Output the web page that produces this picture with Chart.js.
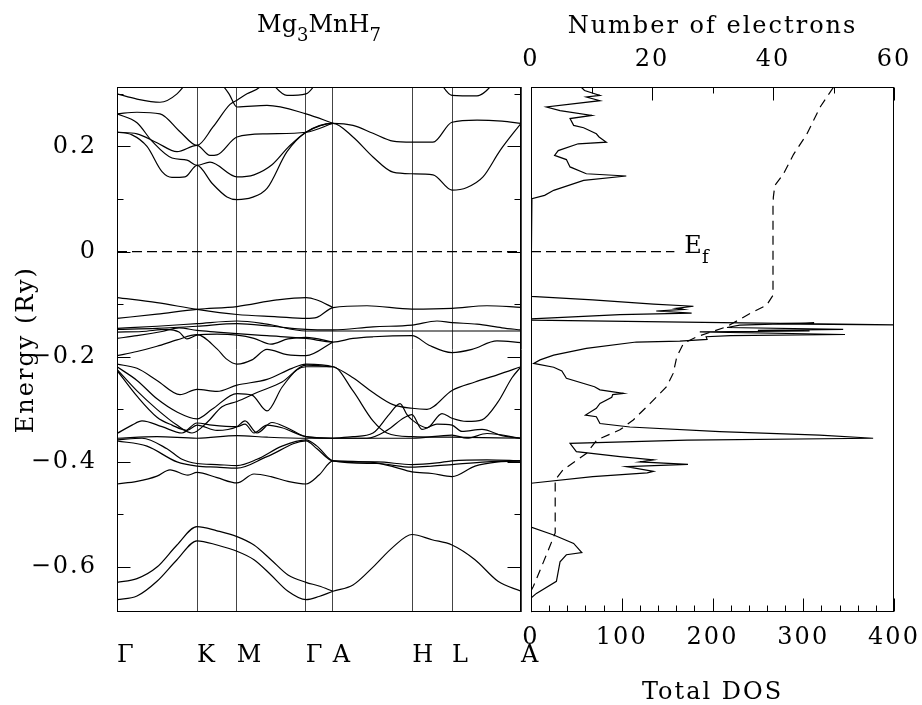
<!DOCTYPE html>
<html>
<head>
<meta charset="utf-8">
<script src="https://cdn.jsdelivr.net/npm/chart.js@4.4.1/dist/chart.umd.min.js"></script>
<style>
  body { margin: 0; background: #fff; }
  #wrap { position: relative; width: 922px; height: 705px; overflow: hidden; }
  canvas { position: absolute; left: 0; top: 0; }
</style>
</head>
<body>
<div id="wrap">
  <canvas id="bands" width="922" height="705"></canvas>
  <canvas id="dos" width="922" height="705"></canvas>
</div>
<script>
const FONT = "'DejaVu Serif', serif";
const E_MIN = -0.686, E_MAX = 0.313;

// k path (arbitrary distance units) and labels
const kPoints = [0, 80, 119.7, 188.7, 215.7, 295.3, 335, 404];
const kLabels = ['Γ', 'K', 'M', 'Γ', 'A', 'H', 'L', 'A'];
const energyTicks = [-0.6, -0.5, -0.4, -0.3, -0.2, -0.1, 0, 0.1, 0.2, 0.3];
const dosTicks = [0, 20, 40, 60, 80, 100, 120, 140, 160, 180, 200, 220, 240, 260, 280, 300, 320, 340, 360, 380, 400];
const electronTicks = [0, 10, 20, 30, 40, 50, 60];

// bands: [k, energy (Ry)]
const bandT1 = [[0,0.227],[15,0.222],[30,0.200],[45,0.152],[55,0.141],[68,0.142],[80,0.164],[95,0.130],[110,0.104],[120,0.099],[135,0.103],[150,0.120],[170,0.190],[189,0.227],[216,0.244],[236,0.218],[256,0.180],[276,0.151],[295,0.148],[316,0.146],[335,0.117],[350,0.122],[366,0.142],[383,0.192],[404,0.244]];
const bandT2 = [[0,0.262],[20,0.245],[35,0.210],[55,0.178],[70,0.174],[80,0.164],[93,0.170],[120,0.142],[137,0.146],[155,0.165],[172,0.200],[189,0.227],[216,0.244],[236,0.240],[256,0.225],[276,0.210],[295,0.208],[316,0.208],[335,0.246],[360,0.250],[385,0.248],[404,0.244]];
const bandT3 = [[0,0.262],[20,0.265],[43,0.262],[63,0.228],[80,0.202],[96,0.237],[113,0.280],[120,0.288],[130,0.300],[143,0.313],[150,0.330]];
const bandT4 = [[0,0.227],[20,0.224],[40,0.207],[60,0.190],[80,0.202],[93,0.183],[100,0.184],[120,0.218],[150,0.224],[189,0.227],[216,0.244]];
const bandT5 = [[0,0.300],[20,0.290],[43,0.284],[60,0.300],[73,0.330]];
const bandT6 = [[100,0.330],[112,0.300],[120,0.275],[150,0.278],[189,0.262],[216,0.244]];
const bandT7 = [[150,0.330],[170,0.297],[189,0.300],[203,0.330]];
const bandT8 = [[320,0.330],[335,0.297],[360,0.296],[382,0.330]];

const bandM1 = [[0,-0.0874],[40,-0.097],[80,-0.110],[120,-0.1197],[160,-0.124],[189,-0.127],[200,-0.125],[216,-0.1065],[250,-0.103],[295,-0.1095],[335,-0.108],[370,-0.103],[404,-0.106]];
const bandM2 = [[0,-0.127],[40,-0.119],[80,-0.110],[120,-0.1045],[160,-0.092],[189,-0.0874],[200,-0.092],[216,-0.1065]];
const bandC1 = [[0,-0.146],[40,-0.142],[80,-0.137],[120,-0.132],[150,-0.138],[189,-0.151],[216,-0.151],[295,-0.151],[335,-0.151],[404,-0.151]];
const bandC2 = [[0,-0.148],[40,-0.146],[80,-0.142],[120,-0.137],[155,-0.142],[189,-0.148],[216,-0.149],[256,-0.143],[295,-0.140],[320,-0.132],[335,-0.135],[360,-0.138],[385,-0.145],[404,-0.149]];
const bandC3 = [[0,-0.153],[25,-0.152],[50,-0.148],[62,-0.153],[70,-0.166],[80,-0.159],[100,-0.157],[120,-0.159],[137,-0.165],[154,-0.176],[171,-0.166],[189,-0.163],[216,-0.172]];
const bandC4 = [[0,-0.165],[20,-0.160],[45,-0.152],[62,-0.145],[80,-0.150],[100,-0.153],[120,-0.156],[150,-0.160],[189,-0.165],[216,-0.172],[236,-0.165],[256,-0.162],[295,-0.160],[312,-0.178],[335,-0.192],[355,-0.186],[380,-0.170],[404,-0.173]];
const bandC5 = [[0,-0.198],[20,-0.190],[40,-0.180],[60,-0.168],[80,-0.158],[100,-0.185],[110,-0.205],[120,-0.214],[135,-0.206],[150,-0.186],[170,-0.196],[189,-0.198],[216,-0.172]];

const bandD1 = [[0,-0.214],[20,-0.222],[40,-0.245],[63,-0.272],[80,-0.262],[100,-0.266],[120,-0.254],[150,-0.243],[175,-0.222],[189,-0.214],[216,-0.219],[236,-0.240],[256,-0.268],[276,-0.291],[295,-0.298],[310,-0.300],[335,-0.264],[358,-0.248],[381,-0.234],[404,-0.219]];
const bandD2 = [[0,-0.219],[20,-0.245],[40,-0.280],[60,-0.305],[80,-0.318],[95,-0.300],[120,-0.270],[135,-0.273],[150,-0.303],[165,-0.258],[180,-0.225],[189,-0.219],[216,-0.219],[236,-0.265],[256,-0.322],[270,-0.345],[295,-0.352],[335,-0.353],[404,-0.355]];
const bandD3 = [[0,-0.224],[20,-0.265],[40,-0.300],[60,-0.330],[75,-0.345],[90,-0.325],[105,-0.295],[120,-0.285],[140,-0.268],[165,-0.248],[189,-0.216],[216,-0.219]];
const bandD4 = [[0,-0.226],[20,-0.275],[40,-0.315],[55,-0.330],[70,-0.340],[80,-0.330],[100,-0.340],[120,-0.333],[128,-0.322],[140,-0.345],[155,-0.325],[170,-0.335],[189,-0.352],[216,-0.355]];
const bandW1 = [[216,-0.355],[236,-0.352],[256,-0.345],[272,-0.310],[283,-0.289],[290,-0.310],[295,-0.320],[310,-0.335],[325,-0.308],[335,-0.317],[350,-0.323],[365,-0.320],[381,-0.286],[395,-0.240],[404,-0.219]];
const bandW2 = [[216,-0.355],[250,-0.355],[270,-0.340],[287,-0.316],[295,-0.310],[305,-0.338],[320,-0.328],[335,-0.330],[345,-0.342],[365,-0.338],[385,-0.350],[404,-0.355]];
const bandG1 = [[0,-0.346],[15,-0.330],[25,-0.322],[45,-0.333],[65,-0.345],[80,-0.326],[95,-0.330],[120,-0.333],[128,-0.328],[137,-0.345],[150,-0.330],[165,-0.335],[189,-0.352],[216,-0.355]];
const bandG2 = [[0,-0.355],[40,-0.352],[80,-0.355],[120,-0.350],[150,-0.353],[189,-0.355],[216,-0.355],[295,-0.355],[335,-0.349],[350,-0.355],[370,-0.346],[404,-0.355]];
const bandG3 = [[0,-0.358],[25,-0.355],[50,-0.375],[65,-0.395],[80,-0.403],[100,-0.405],[120,-0.407],[140,-0.395],[165,-0.370],[189,-0.358],[200,-0.370],[216,-0.398],[260,-0.403],[295,-0.410],[315,-0.408],[335,-0.405],[370,-0.400],[404,-0.398]];
const bandG4 = [[0,-0.360],[30,-0.370],[60,-0.400],[80,-0.408],[100,-0.410],[120,-0.412],[150,-0.390],[189,-0.360],[200,-0.375],[216,-0.398],[260,-0.400],[295,-0.405],[320,-0.402],[335,-0.398],[370,-0.396],[404,-0.398]];
const bandB3 = [[0,-0.442],[20,-0.437],[40,-0.427],[53,-0.415],[71,-0.425],[80,-0.420],[100,-0.430],[120,-0.440],[137,-0.423],[154,-0.428],[171,-0.437],[189,-0.442],[202,-0.425],[216,-0.398],[236,-0.399],[256,-0.401],[276,-0.409],[295,-0.419],[315,-0.422],[335,-0.428],[358,-0.408],[381,-0.400],[404,-0.398]];
const bandL1 = [[0,-0.662],[20,-0.655],[40,-0.627],[60,-0.586],[80,-0.550],[100,-0.558],[120,-0.570],[137,-0.586],[154,-0.615],[171,-0.646],[189,-0.662],[202,-0.656],[216,-0.646],[236,-0.634],[256,-0.600],[276,-0.562],[295,-0.538],[315,-0.548],[335,-0.558],[358,-0.586],[381,-0.627],[404,-0.646]];
const bandL2 = [[0,-0.629],[20,-0.622],[40,-0.600],[60,-0.558],[80,-0.523],[100,-0.531],[120,-0.542],[137,-0.558],[154,-0.586],[171,-0.615],[189,-0.629],[202,-0.636],[216,-0.646]];

const bands = [bandT1, bandT2, bandT3, bandT4, bandT5, bandT6, bandT7, bandT8,
  bandM1, bandM2, bandC1, bandC2, bandC3, bandC4, bandC5,
  bandD1, bandD2, bandD3, bandD4, bandW1, bandW2, bandG1, bandG2, bandG3, bandG4,
  bandB3, bandL1, bandL2];

// total DOS, traced from top to bottom
const dosEnergy = [0.320,0.3115,0.3064,0.297,0.294,0.287,0.275,0.268,0.259,0.253,0.240,0.2355,0.224,0.218,0.208,0.205,0.192,0.183,0.175,0.161,0.148,0.1437,0.1355,0.1165,0.107,0.1007,0.098,
  -0.085,-0.092,-0.100,-0.104,-0.108,-0.110,-0.113,-0.117,-0.120,-0.128,
  -0.1305,-0.139,-0.1405,-0.1375,-0.1355,-0.140,-0.1444,-0.148,-0.150,-0.151,-0.1526,-0.1577,-0.160,-0.162,-0.167,-0.1703,-0.172,-0.184,-0.197,-0.206,-0.2127,-0.220,-0.227,-0.241,-0.257,-0.263,-0.2697,-0.272,-0.277,-0.2887,-0.298,-0.311,-0.314,-0.327,-0.3336,-0.3425,-0.349,-0.355,-0.3584,-0.3647,-0.3805,-0.390,-0.396,-0.400,-0.4045,-0.409,-0.418,-0.421,-0.428,-0.4406,
  -0.524,-0.539,-0.555,-0.5726,-0.5766,-0.590,-0.627,-0.650,-0.659,-0.690];
const dosTotal = [52,56,59,76,61,76,17,32,67,43,47,58,72,75,83,52,30,26,39,43,61,105,58,25,15,1,0,
  0,68,135,179,160,168,138,177,98,0,
  0,380,480,262,312,230,216,344,250,307,186,346,220,193,194,164,116,61,25,10,3,25,34,39,70,76,102,90,89,76,72,60,72,76,109,208,318,377,172,43,50,98,135,120,173,105,135,128,68,0,
  0,25,47,56,39,32,28,6,0,0];

// integrated number of electrons
const electronEnergy = [0.3126,0.275,0.2235,0.185,0.147,0.1257,0.1035,0.09,-0.083,-0.102,-0.1178,-0.1431,-0.162,-0.1747,-0.200,-0.2317,-0.257,-0.2887,-0.3203,-0.339,-0.358,-0.3837,-0.415,-0.434,-0.535,-0.561,-0.606,-0.637,-0.645];
const electronCount = [50.0,47.8,45.6,43.4,41.7,40.3,40.06,40.0,40.0,38.95,36.2,32.3,27.4,25.2,24.1,23.5,22.4,19.7,16.9,14.7,10.9,9.2,5.3,4.0,4.0,3.1,1.5,0.38,0];

const fermiBandK = [0, 404];
const fermiDos = [0, 158];

Chart.defaults.font.family = FONT;
Chart.defaults.font.size = 24;
Chart.defaults.color = '#000';

function fmtEnergy(v) {
  if (Math.abs(v) < 1e-9) return '0';
  if (Math.round(v * 10) % 2 !== 0) return '';
  return (v < 0 ? '\u2212' : '') + Math.abs(v).toFixed(1);
}

// wide lettering, like the plotting package's stroke font (drawing only)
const spacing = {
  id: 'spacing',
  beforeUpdate(chart) { chart.ctx.letterSpacing = '0px'; },
  beforeDraw(chart) { chart.ctx.letterSpacing = '2px'; }
};

// frame + inward tick marks
const frameTicks = {
  id: 'frameTicks',
  afterDatasetsDraw(chart, args, opts) {
    const { ctx, chartArea: a } = chart;
    ctx.save();
    ctx.strokeStyle = '#000';
    ctx.lineWidth = 1;
    const L = Math.round(a.left) + 0.5, R = Math.round(a.right) - 0.5;
    const T = Math.round(a.top) + 0.5, B = Math.round(a.bottom) - 0.5;
    ctx.strokeRect(L, T, R - L, B - T);
    (opts.marks || []).forEach(m => {
      const s = chart.scales[m.scale];
      s.ticks.forEach(t => {
        const p = Math.round(s.getPixelForValue(t.value)) + 0.5;
        const len = t.label ? 13 : 6;
        ctx.beginPath();
        if (m.side === 'left') { ctx.moveTo(L, p); ctx.lineTo(L + len, p); }
        if (m.side === 'right') { ctx.moveTo(R, p); ctx.lineTo(R - len, p); }
        if (m.side === 'bottom') { ctx.moveTo(p, B); ctx.lineTo(p, B - len); }
        if (m.side === 'top') { ctx.moveTo(p, T); ctx.lineTo(p, T + len); }
        ctx.stroke();
      });
    });
    ctx.restore();
  }
};

function drawParts(ctx, parts, x, y, align) {
  ctx.letterSpacing = '0px';
  let w = 0;
  parts.forEach(p => { ctx.font = p[2] + 'px ' + FONT; w += ctx.measureText(p[0]).width; });
  let cx = align === 'center' ? x - w / 2 : x;
  ctx.textAlign = 'left';
  ctx.textBaseline = 'alphabetic';
  ctx.fillStyle = '#000';
  parts.forEach(p => {
    ctx.font = p[2] + 'px ' + FONT;
    ctx.fillText(p[0], cx, y + p[1]);
    cx += ctx.measureText(p[0]).width;
  });
}

const bandTitle = {
  id: 'bandTitle',
  afterDraw(chart) {
    const a = chart.chartArea;
    chart.ctx.save();
    drawParts(chart.ctx, [['Mg', 0, 24], ['3', 9, 18], ['MnH', 0, 24], ['7', 9, 18]], (a.left + a.right) / 2, 32, 'center');
    chart.ctx.restore();
  }
};

const fermiLabel = {
  id: 'fermiLabel',
  afterDraw(chart) {
    const x = chart.scales.x.getPixelForValue(169);
    const y = chart.scales.y.getPixelForValue(0);
    chart.ctx.save();
    drawParts(chart.ctx, [['E', 1, 24], ['f', 11, 18]], x, y, 'left');
    chart.ctx.restore();
  }
};

const lineStyle = {
  showLine: true, borderColor: '#000', borderWidth: 1.2, pointRadius: 0, fill: false
};

new Chart(document.getElementById('bands'), {
  type: 'scatter',
  data: {
    datasets: bands.map(b => Object.assign({
      data: b.map(p => ({ x: p[0], y: p[1] })),
      cubicInterpolationMode: 'monotone'
    }, lineStyle)).concat([Object.assign({
      data: fermiBandK.map(k => ({ x: k, y: 0 })),
      borderDash: [10, 5]
    }, lineStyle)])
  },
  options: {
    responsive: false, animation: false, devicePixelRatio: 1,
    layout: { padding: { left: 0, right: 401, top: 87, bottom: 0 } },
    plugins: {
      legend: { display: false }, tooltip: { enabled: false },
      frameTicks: { marks: [{ scale: 'y', side: 'left' }, { scale: 'y', side: 'right' }] }
    },
    scales: {
      x: {
        type: 'linear', min: 0, max: 404,
        afterBuildTicks: s => { s.ticks = kPoints.map(v => ({ value: v })); },
        afterFit: s => { s.height = 92.7; },
        grid: { color: '#444', drawTicks: false },
        border: { display: false },
        ticks: { autoSkip: false, maxRotation: 0, align: 'start', padding: 29,
          callback: (v, i) => kLabels[i] }
      },
      y: {
        min: E_MIN, max: E_MAX,
        afterBuildTicks: s => { s.ticks = energyTicks.map(v => ({ value: v })); },
        afterFit: s => { s.width = 117; },
        grid: { display: false, drawTicks: false },
        border: { display: false },
        ticks: { autoSkip: false, padding: 20, callback: v => fmtEnergy(v) },
        title: { display: true, text: 'Energy (Ry)', padding: { top: 12, bottom: 0 } }
      }
    }
  },
  plugins: [spacing, frameTicks, bandTitle]
});

new Chart(document.getElementById('dos'), {
  type: 'scatter',
  data: {
    datasets: [
      Object.assign({
        data: dosTotal.map((d, i) => ({ x: d, y: dosEnergy[i] })),
        tension: 0
      }, lineStyle),
      Object.assign({
        data: electronCount.map((n, i) => ({ x: n, y: electronEnergy[i] })),
        xAxisID: 'x2', borderDash: [9, 6], tension: 0
      }, lineStyle),
      Object.assign({
        data: fermiDos.map(d => ({ x: d, y: 0 })),
        borderDash: [10, 5]
      }, lineStyle)
    ]
  },
  options: {
    responsive: false, animation: false, devicePixelRatio: 1,
    layout: { padding: { left: 531, right: 28, top: 0, bottom: 0 } },
    plugins: {
      legend: { display: false }, tooltip: { enabled: false },
      frameTicks: { marks: [{ scale: 'x', side: 'bottom' }, { scale: 'x2', side: 'top' }] }
    },
    scales: {
      x: {
        type: 'linear', position: 'bottom', min: 0, max: 400,
        afterBuildTicks: s => { s.ticks = dosTicks.map(v => ({ value: v })); },
        afterFit: s => { s.height = 92.7; },
        grid: { display: false, drawTicks: true, tickLength: 11 }, border: { display: false },
        ticks: { autoSkip: false, maxRotation: 0, padding: 0,
          callback: v => (v % 100 === 0 ? String(v) : '') },
        title: { display: true, text: 'Total DOS', padding: { top: 0, bottom: -2 } }
      },
      x2: {
        type: 'linear', position: 'top', axis: 'x', min: 0, max: 60,
        afterBuildTicks: s => { s.ticks = electronTicks.map(v => ({ value: v })); },
        afterFit: s => { s.height = 87; },
        grid: { display: false, drawTicks: true, tickLength: 13 }, border: { display: false },
        ticks: { autoSkip: false, maxRotation: 0, padding: 0,
          callback: v => (v % 20 === 0 ? String(v) : '') },
        title: { display: true, text: 'Number of electrons', padding: { top: 12, bottom: 0 } }
      },
      y: { display: false, min: E_MIN, max: E_MAX }
    }
  },
  plugins: [spacing, frameTicks, fermiLabel]
});
</script>
</body>
</html>
